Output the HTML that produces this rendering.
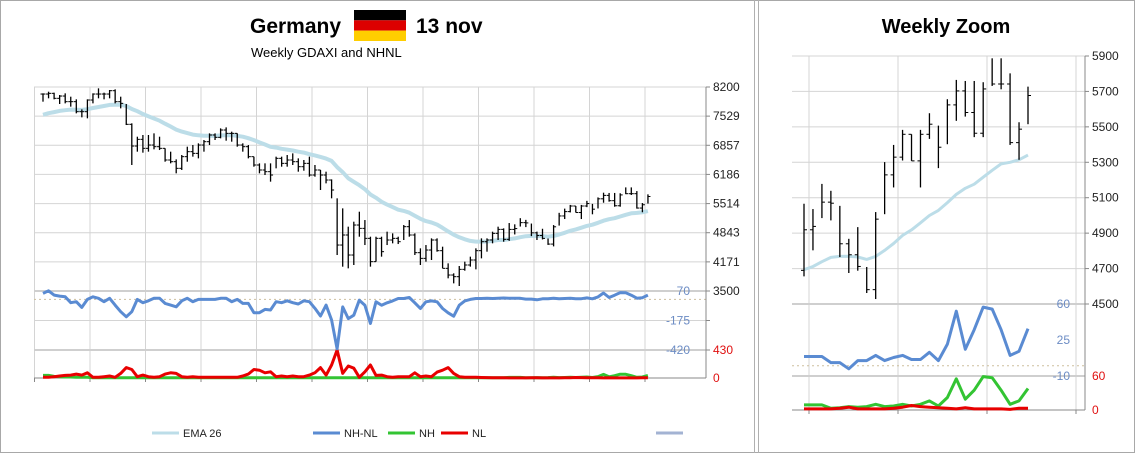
<!DOCTYPE html>
<html><head><meta charset="utf-8">
<style>
html,body{margin:0;padding:0;background:#fff;}
svg{display:block;font-family:"Liberation Sans",sans-serif;}
</style></head>
<body>
<svg id="c" width="1135" height="453" viewBox="0 0 1135 453" xmlns="http://www.w3.org/2000/svg">
<rect x="0.5" y="0.5" width="1134" height="452" fill="#fff" stroke="#a8a8a8"/>
<line x1="754.5" y1="0" x2="754.5" y2="453" stroke="#b0b0b0"/>
<line x1="758.5" y1="0" x2="758.5" y2="453" stroke="#b0b0b0"/>
<text x="250" y="33" font-size="21" font-weight="bold">Germany</text>
<g>
<rect x="354" y="10" width="52" height="10.3" fill="#000"/>
<rect x="354" y="20.3" width="52" height="10.3" fill="#dd0000"/>
<rect x="354" y="30.6" width="52" height="10.4" fill="#ffce00"/>
</g>
<text x="416" y="33" font-size="21" font-weight="bold">13 nov</text>
<text x="251" y="57" font-size="13">Weekly GDAXI and NHNL</text>
<text x="946" y="33" font-size="20" font-weight="bold" text-anchor="middle">Weekly Zoom</text>
<g id="L"></g>
<g id="R"></g>
</svg>
<script>
const highs=[8054,8092,8069,8015,8054,7977,7916,7685,7916,8054,8169,8069,8131,8146,7977,7808,7363,7055,7094,7094,7132,7055,6787,6710,6533,6633,6825,6863,6902,6979,7132,7132,7247,7270,7171,7132,6902,6863,6595,6441,6441,6441,6595,6595,6633,6671,6556,6518,6595,6403,6288,6249,6072,5635,5404,4982,5097,5327,5135,4751,4751,4751,4867,4828,4751,5020,5135,4828,4483,4559,4713,4713,4521,4137,3907,4076,4176,4291,4483,4713,4713,4867,4982,4943,5066,5036,5178,5139,5054,4868,4934,4709,5019,5301,5398,5483,5458,5483,5577,5507,5656,5765,5759,5759,5752,5887,5887,5802,5526,5727];
const lows=[7862,7939,7916,7808,7823,7747,7593,7501,7478,7823,7939,7916,7939,7823,7708,7324,6403,6710,6687,6710,6764,6748,6479,6441,6211,6288,6479,6595,6556,6710,6863,6979,7017,6963,6940,6825,6710,6556,6364,6211,6172,6019,6326,6364,6364,6403,6249,6272,6134,6134,5827,5980,5635,4329,4060,4022,4099,4751,4559,4061,4176,4291,4559,4598,4582,4675,4751,4329,4099,4176,4214,4406,4022,3792,3676,3615,3968,4061,3999,4252,4406,4598,4675,4636,4656,4803,4985,4972,4765,4675,4688,4562,4528,5007,5158,5310,5308,5158,5432,5267,5402,5534,5558,5442,5442,5731,5712,5398,5314,5515];
const closes=[8038,8054,7939,7992,7862,7862,7631,7631,7900,8038,8038,8038,8115,7862,7823,7340,6840,6994,6787,6863,6825,6787,6518,6479,6326,6595,6710,6671,6863,6940,7094,7040,7209,7132,7132,6863,6825,6595,6403,6288,6249,6172,6556,6441,6518,6479,6364,6441,6172,6288,6172,6057,5827,4559,4790,4329,5020,4943,4713,4176,4713,4406,4675,4713,4636,4982,4790,4383,4252,4444,4675,4429,4022,3868,3830,3999,4099,4214,4429,4636,4675,4828,4920,4690,4919,4938,5075,5069,4840,4778,4712,4581,4979,5229,5329,5458,5308,5458,5515,5385,5624,5703,5581,5464,5714,5742,5742,5411,5487,5677];
const nhnl=[50,72,36,28,22,-27,-19,-66,0,22,9,-19,9,-47,-102,-144,-102,0,-27,-11,9,9,-33,-47,-61,-11,9,-19,0,0,0,0,9,9,-19,0,-33,-33,-110,-110,-83,-88,-19,-27,-11,-27,-38,-11,-19,-74,-138,-47,-171,-410,-62,-159,-131,-6,-48,-200,-20,-48,-28,-12,8,8,16,-28,-75,-20,-12,-20,-75,-111,-139,-48,-12,0,8,8,10,8,10,12,9,9,9,3,3,-3,5,5,10,5,8,10,6,6,13,5,21,53,16,35,57,55,35,10,14,36];
const nh=[40,40,25,20,15,15,10,10,10,5,5,5,5,5,5,5,5,5,5,5,5,5,5,5,5,5,5,5,5,5,5,5,5,5,5,5,5,5,5,5,5,5,5,5,5,5,5,5,5,5,5,5,5,5,5,5,5,5,5,5,5,5,5,5,5,5,5,5,5,5,5,5,5,5,5,5,5,5,5,5,5,5,5,5,9,9,9,3,4,6,5,6,10,6,7,10,7,10,16,7,22,55,19,35,59,57,35,10,16,38];
const nl=[10,10,20,30,40,45,60,45,80,10,10,20,30,10,70,160,130,20,45,20,10,20,60,80,70,20,10,20,10,10,10,10,10,10,10,10,30,60,130,120,80,95,20,30,20,30,20,20,45,80,160,45,200,430,70,185,150,10,95,200,40,45,20,10,20,20,20,80,20,30,20,90,120,160,70,20,10,10,10,8,6,5,5,4,2,2,2,2,3,5,2,2,2,2,3,5,8,6,5,4,3,2,4,2,2,2,2,1,3,3];
const priceTicksL=[8200,7529,6857,6186,5514,4843,4171,3500];
const nhnlTicksL=[70,-175,-420];
const nlTicksL=[430,0];
const priceTicksR=[5900,5700,5500,5300,5100,4900,4700,4500];
const nhnlTicksR=[60,25,-10];
const nlTicksR=[60,0];
const zoomStart=84;

const NS="http://www.w3.org/2000/svg";
function mk(parent,tag,attrs){const e=document.createElementNS(NS,tag);for(const k in attrs)e.setAttribute(k,attrs[k]);parent.appendChild(e);return e;}
// EMA 26 derived from closes
const ema=[];{let e=7560;const a=2/27;for(let i=0;i<closes.length;i++){e=i===0?e:e+a*(closes[i]-e);ema.push(e);}}

const L=document.getElementById('L');
const xL=i=>43+i*5.55;
const yP=p=>87+(8200-p)*204/4700;
const yH=v=>291+(70-v)*29.5/245;
const yN=v=>378-v*28/430;
// grid
for(let k=0;k<12;k++){const gx=34.5+k*55.5;
 const g=mk(L,'line',{x1:gx,y1:87,x2:gx,y2:378,stroke:'#d4d4d4','stroke-width':1});
 
 const t=mk(L,'line',{x1:gx,y1:378,x2:gx,y2:382,stroke:'#888'});
 }
priceTicksL.forEach(p=>{const y=yP(p);
 const g=mk(L,'line',{x1:34,y1:y,x2:706,y2:y,stroke:p===3500?'#cfcfcf':'#d4d4d4','stroke-width':p===3500?2:1});
 
 const tk=mk(L,'line',{x1:706,y1:y,x2:710,y2:y,stroke:'#888'});
 
 const t=mk(L,'text',{x:713,y:y+4,'font-size':12,fill:'#222'});t.textContent=p;
 });
nhnlTicksL.forEach(v=>{const y=yH(v);
 if(v!==70){const g=mk(L,'line',{x1:34,y1:y,x2:706,y2:y,stroke:v===-420?'#cfcfcf':'#d4d4d4','stroke-width':v===-420?2:1});
 
 const tk=mk(L,'line',{x1:706,y1:y,x2:710,y2:y,stroke:'#888'});
 }
 const t=mk(L,'text',{x:690,y:y+4,'font-size':12,fill:'#6c8cc4','text-anchor':'end'});t.textContent=v;
 });
nlTicksL.forEach(v=>{const y=yN(v);
 const t=mk(L,'text',{x:713,y:y+4,'font-size':12,fill:'#e01010'});t.textContent=v;
 });
{const z=mk(L,'line',{x1:34,y1:yH(0),x2:706,y2:yH(0),stroke:'#cdbf9e','stroke-dasharray':'2,3'});
 
 const ax=mk(L,'line',{x1:706,y1:87,x2:706,y2:378,stroke:'#888'});
 
 const bx=mk(L,'line',{x1:34,y1:378,x2:706,y2:378,stroke:'#888'});
 }
function poly(parent,xs,ys,arr,color,w,name,from){const pts=[];for(let i=from;i<arr.length;i++)pts.push(xs(i-from).toFixed(1)+','+ys(arr[i]).toFixed(1));
 const p=mk(parent,'polyline',{points:pts.join(' '),fill:'none',stroke:color,'stroke-width':w,'stroke-linejoin':'round'});
 return p;}
poly(L,xL,yP,ema,'#bcdde8',4,'left-ema26-line',0);
function bars(parent,xs,ys,from,tick,name){for(let i=from;i<closes.length;i++){const x=xs(i-from);
 const g=mk(parent,'g',{});
 mk(g,'line',{x1:x,y1:ys(highs[i]),x2:x,y2:ys(lows[i]),stroke:'#000','stroke-width':1.3});
 mk(g,'line',{x1:x,y1:ys(closes[i]),x2:x+tick,y2:ys(closes[i]),stroke:'#000','stroke-width':1});
 const o=i>0?closes[i-1]:closes[i];
 if(o<=highs[i]&&o>=lows[i])mk(g,'line',{x1:x-tick,y1:ys(o),x2:x,y2:ys(o),stroke:'#000','stroke-width':1});}}
bars(L,xL,yP,0,2.5,'left-ohlc-bar');
poly(L,xL,yN,nh,'#33c433',3,'left-nh-line',0);
poly(L,xL,yN,nl,'#e80000',3,'left-nl-line',0);
poly(L,xL,yH,nhnl,'#5a8bd2',3,'left-nhnl-line',0);
// legend
const leg=[['EMA 26','#bcdde8',152],['NH-NL','#5a8bd2',313],['NH','#33c433',388],['NL','#e80000',441]];
leg.forEach(l=>{const g=mk(L,'g',{});
 mk(g,'line',{x1:l[2],y1:433,x2:l[2]+27,y2:433,stroke:l[1],'stroke-width':3});
 const t=mk(g,'text',{x:l[2]+31,y:437,'font-size':11,fill:'#222'});t.textContent=l[0];});
{const e=mk(L,'line',{x1:656,y1:433,x2:683,y2:433,stroke:'#a3b3d3','stroke-width':3});
 }

// right chart
const R=document.getElementById('R');
const xR=j=>804+j*8.96;
const yPR=p=>56+(5900-p)*248/1400;
const yHR=v=>304+(60-v)*72/70;
const yNR=v=>410-v*34/60;
[809,898,987,1076].forEach(gx=>{const g=mk(R,'line',{x1:gx,y1:56,x2:gx,y2:410,stroke:'#d4d4d4'});
 
 const t=mk(R,'line',{x1:gx,y1:410,x2:gx,y2:414,stroke:'#888'});
 });
priceTicksR.forEach(p=>{const y=yPR(p);
 const g=mk(R,'line',{x1:792,y1:y,x2:1085,y2:y,stroke:p===4500?'#cfcfcf':'#d4d4d4','stroke-width':p===4500?2:1});
 
 const tk=mk(R,'line',{x1:1085,y1:y,x2:1089,y2:y,stroke:'#888'});
 
 const t=mk(R,'text',{x:1092,y:y+4,'font-size':12,fill:'#222'});t.textContent=p;
 });
nhnlTicksR.forEach(v=>{const y=yHR(v);
 if(v===-10){const g=mk(R,'line',{x1:792,y1:y,x2:1085,y2:y,stroke:'#cfcfcf','stroke-width':2});
 }
 const t=mk(R,'text',{x:1070,y:y+4,'font-size':12,fill:'#6c8cc4','text-anchor':'end'});t.textContent=v;
 });
nlTicksR.forEach(v=>{const y=yNR(v);
 const t=mk(R,'text',{x:1092,y:y+4,'font-size':12,fill:'#e01010'});t.textContent=v;
 });
{const z=mk(R,'line',{x1:792,y1:yHR(0),x2:1085,y2:yHR(0),stroke:'#cdbf9e','stroke-dasharray':'2,3'});
 
 const ax=mk(R,'line',{x1:1085,y1:56,x2:1085,y2:410,stroke:'#888'});
 
 const bx=mk(R,'line',{x1:792,y1:410,x2:1085,y2:410,stroke:'#888'});
 }
poly(R,xR,yPR,ema,'#bcdde8',3,'right-ema26-line',zoomStart);
bars(R,xR,yPR,zoomStart,3,'right-ohlc-bar');
poly(R,xR,yNR,nh,'#33c433',3,'right-nh-line',zoomStart);
poly(R,xR,yNR,nl,'#e80000',3,'right-nl-line',zoomStart);
poly(R,xR,yHR,nhnl,'#5a8bd2',3,'right-nhnl-line',zoomStart);
</script>
</body></html>
